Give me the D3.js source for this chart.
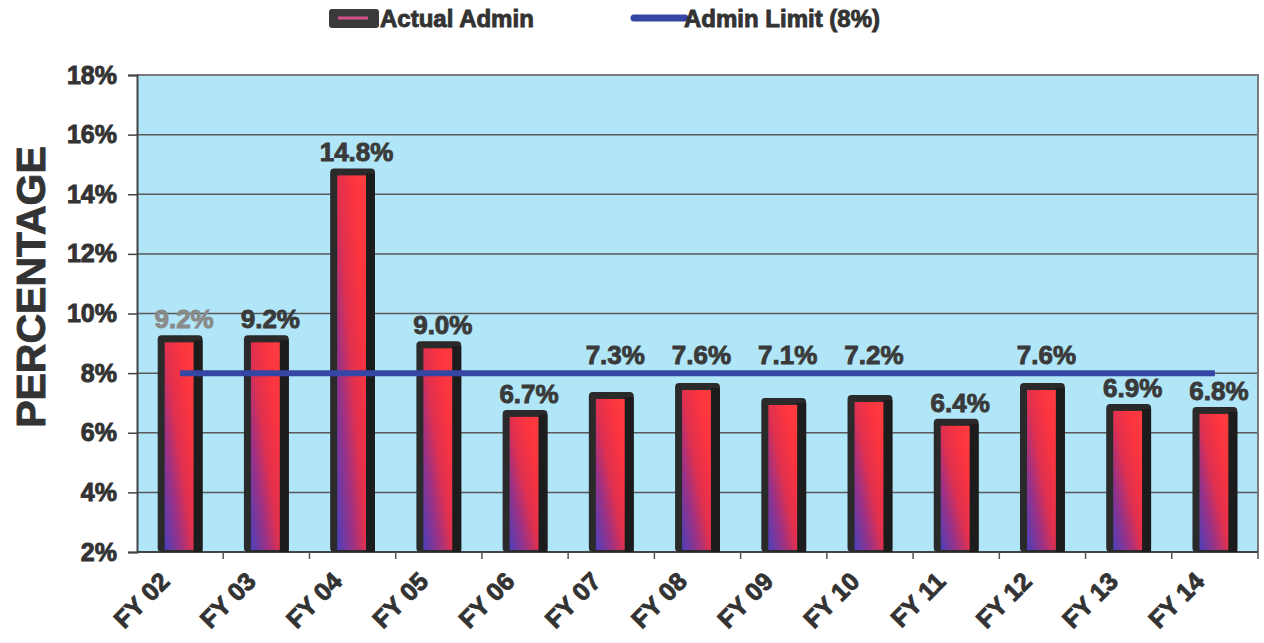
<!DOCTYPE html>
<html>
<head>
<meta charset="utf-8">
<script src="https://cdn.jsdelivr.net/npm/d3@7"></script>
<style>
  html, body { margin: 0; padding: 0; background: #ffffff; }
  svg { display: block; }
  text { font-family: "Liberation Sans", Arial, sans-serif; font-weight: bold; fill: #333333;
         stroke: #333333; stroke-width: 0.9px; paint-order: stroke; }
</style>
</head>
<body>
<svg id="chart" width="1264" height="643"></svg>
<script>
// Fiscal years and administrative cost share (percent)
const years = ["FY 02", "FY 03", "FY 04", "FY 05", "FY 06", "FY 07", "FY 08",
               "FY 09", "FY 10", "FY 11", "FY 12", "FY 13", "FY 14"];
const actualAdmin = [9.2, 9.2, 14.8, 9.0, 6.7, 7.3, 7.6, 7.1, 7.2, 6.4, 7.6, 6.9, 6.8];
const adminLimit = [8, 8, 8, 8, 8, 8, 8, 8, 8, 8, 8, 8, 8];
const yTicks = [2, 4, 6, 8, 10, 12, 14, 16, 18];
const seriesNames = ["Actual Admin", "Admin Limit (8%)"];

const svg = d3.select("#chart");
const plot = { left: 137, right: 1258, top: 75, bottom: 552 };

const x = d3.scaleBand().domain(years).range([plot.left, plot.right]).padding(0);
const y = d3.scaleLinear().domain([2, 18]).range([plot.bottom, plot.top]);

// Gradient for the bar faces: purple at the lower left fading into red
const defs = svg.append("defs");
const grad = defs.append("linearGradient")
  .attr("id", "barFace").attr("x1", 0).attr("y1", 1).attr("x2", 1).attr("y2", 0);
[[0, "#4b3fbb"], [0.28, "#9a3286"], [0.5, "#e0304f"], [0.75, "#fa3440"], [1, "#ff3d3d"]]
  .forEach(([o, c]) => grad.append("stop").attr("offset", o).attr("stop-color", c));

// Plot background
svg.append("rect")
  .attr("x", plot.left).attr("y", plot.top)
  .attr("width", plot.right - plot.left).attr("height", plot.bottom - plot.top)
  .attr("fill", "#b0e6f8");

// Horizontal grid lines
svg.append("g").selectAll("line").data(yTicks.slice(1)).join("line")
  .attr("x1", plot.left).attr("x2", plot.right)
  .attr("y1", d => y(d)).attr("y2", d => y(d))
  .attr("stroke", "#5a5a5a").attr("stroke-width", 1.5);

// Plot frame (top and right)
svg.append("path")
  .attr("d", `M${plot.left},${plot.top}H${plot.right}V${plot.bottom}`)
  .attr("fill", "none").attr("stroke", "#7a7a7a").attr("stroke-width", 2);

// Y axis
const yAxis = svg.append("g")
  .attr("transform", `translate(${plot.left},0)`)
  .call(d3.axisLeft(y).tickValues(yTicks).tickFormat(d => d + "%").tickSize(9).tickPadding(11));
yAxis.select(".domain").attr("stroke", "#444").attr("stroke-width", 2);
yAxis.selectAll(".tick line").attr("stroke", "#444").attr("stroke-width", 1.5);
yAxis.selectAll(".tick text")
  .style("font-size", "25px").style("font-family", "Liberation Sans, Arial, sans-serif")
  .style("font-weight", "bold").attr("fill", "#333");

// X axis: ticks sit between the category bands
const xAxis = svg.append("g")
  .attr("transform", `translate(0,${plot.bottom})`);
xAxis.append("line")
  .attr("x1", plot.left).attr("x2", plot.right).attr("y1", 0).attr("y2", 0)
  .attr("stroke", "#444").attr("stroke-width", 2);
xAxis.selectAll("line.tick").data(years.slice(1).concat(["end"])).join("line")
  .attr("class", "tick")
  .attr("x1", (d, i) => plot.left + x.bandwidth() * (i + 1))
  .attr("x2", (d, i) => plot.left + x.bandwidth() * (i + 1))
  .attr("y1", 0).attr("y2", 7)
  .attr("stroke", "#555").attr("stroke-width", 1.5);

xAxis.selectAll("text").data(years).join("text")
  .attr("transform", d => `translate(${x(d) + x.bandwidth() / 2 - 9},${31}) rotate(-45)`)
  .attr("text-anchor", "end")
  .style("font-size", "25px")
  .text(d => d);

// Bars: dark 3D-style casing with a gradient face
const barW = x.bandwidth() * 0.52;
const bars = svg.append("g").selectAll("g").data(actualAdmin).join("g")
  .attr("transform", (d, i) => `translate(${x(years[i]) + x.bandwidth() / 2},0)`);

bars.append("rect")
  .attr("x", -barW / 2).attr("y", d => y(d) - 2)
  .attr("width", barW).attr("height", d => y(2) - y(d) + 2)
  .attr("rx", 4).attr("fill", "#2a2a2a");
bars.append("rect")
  .attr("x", barW / 2 - 9).attr("y", d => y(d) + 3)
  .attr("width", 9).attr("height", d => y(2) - y(d) - 3)
  .attr("fill", "#1c1c1c");
bars.append("rect")
  .attr("x", -barW / 2 + 7).attr("y", d => y(d) + 5)
  .attr("width", barW - 16).attr("height", d => y(2) - y(d) - 7)
  .attr("fill", "url(#barFace)");

// Admin limit line
const line = d3.line()
  .x((d, i) => x(years[i]) + x.bandwidth() / 2)
  .y(d => y(d));
svg.append("path")
  .datum(adminLimit)
  .attr("d", line)
  .attr("fill", "none").attr("stroke", "#3646a4").attr("stroke-width", 6)
  .attr("stroke-linecap", "butt");

// Value labels: above the bar, lifted over the limit line when they would collide
const limitY = y(adminLimit[0]);
svg.append("g").selectAll("text").data(actualAdmin).join("text")
  .attr("x", (d, i) => x(years[i]) + x.bandwidth() / 2 + 4)
  .attr("y", d => {
    let b = y(d) - 9;
    if (b > limitY - 4 && b - 19 < limitY + 4) b = limitY - 9;
    return b;
  })
  .attr("text-anchor", "middle")
  .style("font-size", "26px")
  .style("fill", (d, i) => i === 0 ? "#8a8a8a" : "#3a3a3a")
  .style("stroke", (d, i) => i === 0 ? "#8a8a8a" : "#3a3a3a")
  .text(d => d.toFixed(1) + "%");

// Y axis title
svg.append("text")
  .attr("transform", "translate(45,287) rotate(-90)")
  .attr("text-anchor", "middle")
  .style("font-size", "41px")
  .text("PERCENTAGE");

// Legend
const legend = svg.append("g");
legend.append("rect")
  .attr("x", 329).attr("y", 9).attr("width", 50).attr("height", 19)
  .attr("rx", 3).attr("fill", "#3a3a3a");
legend.append("line")
  .attr("x1", 338).attr("x2", 368).attr("y1", 18).attr("y2", 18)
  .attr("stroke", "#d2508a").attr("stroke-width", 3);
legend.append("text")
  .attr("x", 380).attr("y", 27).style("font-size", "24px").text(seriesNames[0]);
legend.append("line")
  .attr("x1", 634).attr("x2", 685).attr("y1", 18).attr("y2", 18)
  .attr("stroke", "#3646a4").attr("stroke-width", 7).attr("stroke-linecap", "round");
legend.append("text")
  .attr("x", 684).attr("y", 27).style("font-size", "24px").text(seriesNames[1]);
</script>
</body>
</html>
